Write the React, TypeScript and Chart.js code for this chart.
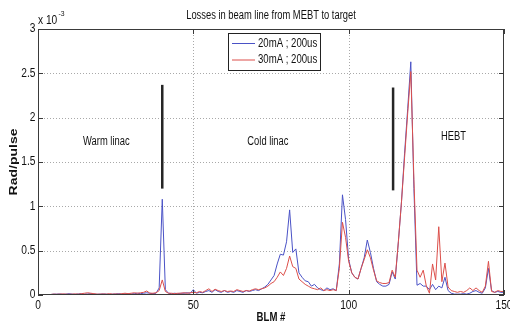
import React, { useEffect, useRef } from "react";
import { Chart, registerables } from "chart.js";
Chart.register(...registerables);

// BLM index of the first value in each series
const blmStart = 1;

// Losses, in units of 1e-3 Rad/pulse, BLM 1..150
const losses20mA: number[] = [
  0, 0, 0, 0.005, 0.01, 0.01, 0.012, 0.008, 0.01, 0.015,
  0.01, 0.008, 0.012, 0.015, 0.01, 0.012, 0.015, 0.01, 0.008, 0.01,
  0.012, 0.01, 0.008, 0.01, 0.012, 0.015, 0.01, 0.012, 0.015, 0.012,
  0.015, 0.02, 0.015, 0.02, 0.025, 0.02, 0.015, 0.02, 0.08, 1.08,
  0.06, 0.02, 0.015, 0.02, 0.015, 0.02, 0.02, 0.025, 0.02, 0.06,
  0.02, 0.03, 0.025, 0.04, 0.05, 0.03, 0.06, 0.04, 0.03, 0.05,
  0.03, 0.04, 0.03, 0.05, 0.04, 0.03, 0.05, 0.04, 0.05, 0.06,
  0.05, 0.07, 0.09, 0.12, 0.17, 0.22, 0.35, 0.46, 0.45, 0.6,
  0.96, 0.48, 0.52, 0.25, 0.2, 0.16, 0.15, 0.1, 0.12, 0.08,
  0.06, 0.05, 0.08, 0.06, 0.07, 0.05, 0.35, 1.13, 0.85, 0.4,
  0.25, 0.2, 0.18, 0.3, 0.42, 0.62, 0.48, 0.3, 0.15, 0.12,
  0.1, 0.1, 0.12, 0.26, 0.18, 0.6, 1.05, 1.6, 2.1, 2.63,
  1.2, 0.11, 0.13, 0.1, 0.1, 0.06, 0.12, 0.06, 0.1, 0.08,
  0.2, 0.05, 0.02, 0.01, 0.01, 0.01, 0.015, 0.01, 0.02, 0.04,
  0.05, 0.03, 0.02, 0.08, 0.3, 0.05, 0.03, 0.04, 0.03, 0.03,
];

const losses30mA: number[] = [
  0, 0, 0, 0.005, 0.01, 0.008, 0.01, 0.012, 0.01, 0.008,
  0.01, 0.012, 0.01, 0.015, 0.02, 0.025, 0.02, 0.015, 0.01, 0.01,
  0.012, 0.01, 0.015, 0.01, 0.012, 0.01, 0.015, 0.02, 0.015, 0.02,
  0.025, 0.02, 0.025, 0.03, 0.045, 0.02, 0.02, 0.025, 0.05, 0.17,
  0.04, 0.02, 0.02, 0.015, 0.02, 0.02, 0.025, 0.02, 0.025, 0.03,
  0.025, 0.04, 0.03, 0.05, 0.07, 0.04, 0.065, 0.05, 0.04, 0.05,
  0.04, 0.045, 0.04, 0.06, 0.05, 0.04, 0.05, 0.045, 0.06, 0.07,
  0.06, 0.07, 0.08, 0.1, 0.13, 0.15, 0.2, 0.26, 0.22, 0.3,
  0.44, 0.32, 0.3, 0.18, 0.15, 0.12, 0.1, 0.08, 0.07, 0.06,
  0.08, 0.05, 0.06, 0.05, 0.06, 0.05, 0.3, 0.82, 0.65, 0.38,
  0.25, 0.2, 0.18, 0.3, 0.4, 0.51, 0.42, 0.28, 0.16, 0.14,
  0.13, 0.13, 0.14, 0.28, 0.2, 0.6, 1.05, 1.55, 2.05, 2.52,
  1.3, 0.28, 0.2, 0.28, 0.1, 0.02, 0.35, 0.17, 0.77, 0.15,
  0.36, 0.09, 0.05, 0.04, 0.03, 0.04, 0.03, 0.05, 0.08, 0.05,
  0.08, 0.05, 0.03, 0.1, 0.38, 0.04, 0.03, 0.05, 0.04, 0.04,
];

const seriesLabels = ["20mA ; 200us", "30mA ; 200us"];
const seriesColors = ["#4a52c6", "#dc4f4a"];

const titleText = "Losses in beam line from MEBT to target";
const xAxisLabel = "BLM #";
const yAxisLabel = "Rad/pulse";

const xTicks = [0, 50, 100, 150];
const xTickLabels = ["0", "50", "100", "150"];
const yTicks = [0, 0.5, 1, 1.5, 2, 2.5, 3];
const yTickLabels = ["0", "0.5", "1", "1.5", "2", "2.5", "3"];

// Section separators (x in BLM, y span in 1e-3 Rad/pulse)
const separatorX = [40, 114.3];
const separatorYLow = [1.2, 1.18];
const separatorYHigh = [2.37, 2.34];

// Section names, placed in data coordinates
const regionNames = ["Warm linac", "Cold linac", "HEBT"];
const regionX = [22, 74, 133.7];
const regionY = [1.73, 1.73, 1.785];

const FONT = "'Liberation Sans', Arial, Helvetica, sans-serif";

function drawText(
  ctx: CanvasRenderingContext2D,
  s: string,
  x: number,
  y: number,
  size: number,
  align: CanvasTextAlign,
  sx: number,
  bold = false
) {
  ctx.save();
  ctx.translate(x, y);
  ctx.scale(sx, 1);
  ctx.font = `${bold ? "bold " : ""}${size}px ${FONT}`;
  ctx.textAlign = align;
  ctx.textBaseline = "middle";
  ctx.fillStyle = "#111";
  ctx.fillText(s, 0, 0);
  ctx.restore();
}

const decorPlugin = {
  id: "matlabDecor",
  beforeDatasetsDraw(chart: any) {
    const { ctx, chartArea: a, scales } = chart;
    const xs = scales.x;
    const ys = scales.y;
    ctx.save();
    ctx.strokeStyle = "#a9a9a9";
    ctx.lineWidth = 1;
    ctx.setLineDash([1, 2]);
    xTicks.forEach((v) => {
      const px = Math.round(xs.getPixelForValue(v)) + 0.5;
      if (px <= a.left + 1 || px >= a.right - 1) return;
      ctx.beginPath();
      ctx.moveTo(px, a.top);
      ctx.lineTo(px, a.bottom);
      ctx.stroke();
    });
    yTicks.forEach((v) => {
      const py = Math.round(ys.getPixelForValue(v)) + 0.5;
      if (py <= a.top + 1 || py >= a.bottom - 1) return;
      ctx.beginPath();
      ctx.moveTo(a.left, py);
      ctx.lineTo(a.right, py);
      ctx.stroke();
    });
    ctx.restore();
  },
  afterDatasetsDraw(chart: any) {
    const { ctx, chartArea: a, scales } = chart;
    const xs = scales.x;
    const ys = scales.y;
    ctx.save();
    // box
    ctx.strokeStyle = "#3a3a3a";
    ctx.lineWidth = 1;
    ctx.setLineDash([]);
    ctx.strokeRect(a.left + 0.5, a.top + 0.5, a.right - a.left - 1, a.bottom - a.top - 1);
    // inner ticks
    const tl = 5;
    ctx.beginPath();
    xTicks.forEach((v) => {
      const px = Math.round(xs.getPixelForValue(v)) + 0.5;
      ctx.moveTo(px, a.bottom);
      ctx.lineTo(px, a.bottom - tl);
      ctx.moveTo(px, a.top);
      ctx.lineTo(px, a.top + tl);
    });
    yTicks.forEach((v) => {
      const py = Math.round(ys.getPixelForValue(v)) + 0.5;
      ctx.moveTo(a.left, py);
      ctx.lineTo(a.left + tl, py);
      ctx.moveTo(a.right, py);
      ctx.lineTo(a.right - tl, py);
    });
    ctx.stroke();

    // tick labels
    xTicks.forEach((v, i) => {
      drawText(ctx, xTickLabels[i], xs.getPixelForValue(v), a.bottom + 11, 12, "center", 0.85);
    });
    yTicks.forEach((v, i) => {
      drawText(ctx, yTickLabels[i], a.left - 2.5, ys.getPixelForValue(v), 12, "right", 0.85);
    });

    // exponent
    drawText(ctx, "x 10", a.left, 21, 12, "left", 0.85);
    drawText(ctx, "-3", a.left + 20.5, 13.5, 8, "left", 0.85);

    // title
    drawText(ctx, titleText, (a.left + a.right) / 2, 16, 12, "center", 0.78);

    // x label
    drawText(ctx, xAxisLabel, (a.left + a.right) / 2, 318, 12, "center", 0.8, true);

    // y label (rotated)
    ctx.save();
    ctx.translate(14, (a.top + a.bottom) / 2);
    ctx.rotate(-Math.PI / 2);
    ctx.scale(1, 0.72);
    ctx.font = `bold 14px ${FONT}`;
    ctx.textAlign = "center";
    ctx.textBaseline = "middle";
    ctx.fillStyle = "#111";
    ctx.fillText(yAxisLabel, 0, 0);
    ctx.restore();

    // region names
    regionNames.forEach((n, i) => {
      drawText(ctx, n, xs.getPixelForValue(regionX[i]), ys.getPixelForValue(regionY[i]), 12, "center", 0.78);
    });

    // legend
    const lx = 228.5, ly = 33.5, lw = 92, lh = 37;
    ctx.fillStyle = "#fff";
    ctx.fillRect(lx, ly, lw, lh);
    ctx.strokeStyle = "#222";
    ctx.lineWidth = 1;
    ctx.strokeRect(lx, ly, lw, lh);
    seriesLabels.forEach((lab, i) => {
      const yy = 43.5 + i * 16.5;
      ctx.strokeStyle = seriesColors[i];
      ctx.lineWidth = 1;
      ctx.beginPath();
      ctx.moveTo(232, yy);
      ctx.lineTo(255, yy);
      ctx.stroke();
      drawText(ctx, lab, 258, yy, 12, "left", 0.8);
    });
    ctx.restore();
  },
};

export default function App() {
  const ref = useRef<HTMLCanvasElement | null>(null);

  useEffect(() => {
    if (!ref.current) return;
    const toPoints = (arr: number[]) => arr.map((v, i) => ({ x: blmStart + i, y: v }));
    const separators = separatorX.map((sx, i) => ({
      label: "sep" + i,
      data: [
        { x: sx, y: separatorYLow[i] },
        { x: sx, y: separatorYHigh[i] },
      ],
      borderColor: "#262626",
      borderWidth: 2.5,
      pointRadius: 0,
      order: -1,
    }));
    const chart = new Chart(ref.current, {
      type: "line",
      data: {
        datasets: [
          {
            label: seriesLabels[0],
            data: toPoints(losses20mA),
            borderColor: seriesColors[0],
            borderWidth: 1,
            pointRadius: 0,
            tension: 0,
            order: 2,
          },
          {
            label: seriesLabels[1],
            data: toPoints(losses30mA),
            borderColor: seriesColors[1],
            borderWidth: 1,
            pointRadius: 0,
            tension: 0,
            order: 1,
          },
          ...separators,
        ] as any,
      },
      options: {
        animation: false,
        responsive: true,
        maintainAspectRatio: false,
        layout: { padding: { left: 38, right: 6, top: 29, bottom: 29 } },
        plugins: {
          legend: { display: false },
          title: { display: false },
          tooltip: { enabled: false },
        },
        scales: {
          x: { type: "linear", min: 0, max: 150, display: false },
          y: { type: "linear", min: 0, max: 3, display: false },
        },
      },
      plugins: [decorPlugin],
    });
    return () => chart.destroy();
  }, []);

  return (
    <div
      style={{
        position: "fixed",
        left: 0,
        top: 0,
        width: 510,
        height: 324,
        background: "#fff",
      }}
    >
      <canvas ref={ref} />
    </div>
  );
}
